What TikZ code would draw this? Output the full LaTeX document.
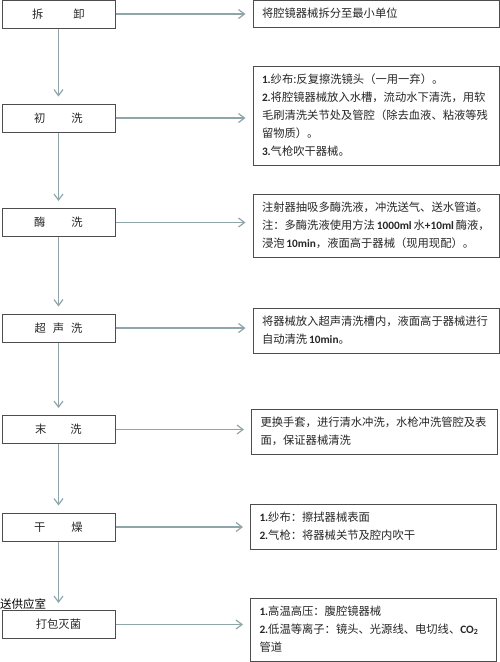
\documentclass[tikz,border=0pt]{standalone}
\usepackage{fontspec}
\setmainfont{Noto Sans CJK SC}
\newfontfamily\numfont{Carlito}
\usetikzlibrary{arrows.meta,positioning}
\definecolor{flowline}{HTML}{8FA5AA}
\definecolor{boxline}{HTML}{4D4D4D}
\newcommand{\bn}[1]{{\numfont\bfseries #1}}

\begin{document}
\begin{tikzpicture}[->,>={Straight Barb[length=6pt,width=9pt]},shorten >=7pt,node distance=317.5pt,
  stage/.style={draw=boxline,line width=1pt,minimum width=113pt,minimum height=28pt,inner sep=0pt,
    font=\fontsize{11.3}{18}\selectfont,text=black!85},
  note/.style={draw=boxline,line width=1pt,text width=228pt,inner xsep=9pt,inner ysep=4.5pt,align=left,
    font=\fontsize{11.3}{18}\selectfont,text=black!85,
    execute at begin node=\strut,execute at end node=\strut},
  every edge/.style={draw=flowline,line width=1.2pt}]
\useasboundingbox (0,0) rectangle (500pt,-662pt);
\node[stage] (0) at (58.5pt,-14pt) {拆\hspace{30pt}卸};
\node[stage] (1) [node distance=104pt, below of = 0] {初\hspace{26pt}洗};
\node[stage] (2) [node distance=104.5pt, below of = 1] {酶\hspace{26pt}洗};
\node[stage] (3) [node distance=105.5pt, below of = 2] {超\hspace{7pt}声\hspace{7pt}洗};
\node[stage] (4) [node distance=101.5pt, below of = 3] {末\hspace{24pt}洗};
\node[stage] (5) [node distance=97.5pt, below of = 4] {干\hspace{26pt}燥};
\node[stage] (6) [node distance=97.5pt, below of = 5] {打包灭菌};
\node[inner sep=0pt,anchor=south west,font=\fontsize{11.5}{12}\selectfont] (s) at ([xshift=-1.5pt,yshift=0.5pt]6.north west) {送供应室};
\node[note] (d0) [right of = 0, yshift=0.5pt] {将腔镜器械拆分至最小单位};
\node[note] (d1) [right of = 1, yshift=2pt] {\bn{1.}纱布:反复擦洗镜头（一用一弃）。\\
  \bn{2.}将腔镜器械放入水槽，流动水下清洗，用软\\
  毛刷清洗关节处及管腔（除去血液、粘液等残\\
  留物质）。\\
  \bn{3.}气枪吹干器械。};
\node[note] (d2) [right of = 2, yshift=-3pt] {注射器抽吸多酶洗液，冲洗送气、送水管道。\\
  注：多酶洗液使用方法\,\bn{1000ml}\,水\bn{+10ml}\,酶液，\\
  浸泡\,\bn{10min}，液面高于器械（现用现配）。};
\node[note] (d3) [right of = 3, yshift=-2.5pt] {将器械放入超声清洗槽内，液面高于器械进行\\
  自动清洗\,\bn{10min}。};
\node[note] (d4) [right of = 4, yshift=-2pt, xshift=-1.5pt] {更换手套，进行清水冲洗，水枪冲洗管腔及表\\
  面，保证器械清洗};
\node[note] (d5) [right of = 5, xshift=-2.5pt] {\bn{1.}纱布：擦拭器械表面\\
  \bn{2.}气枪：将器械关节及腔内吹干};
\node[note] (d6) [right of = 6, yshift=-5pt, xshift=-2.5pt] {\bn{1.}高温高压：腹腔镜器械\\
  \bn{2.}低温等离子：镜头、光源线、电切线、\bn{CO\textsubscript{2}}\\
  管道};
\path (0) edge (1)
   (1) edge (2)
   (2) edge (3)
   (3) edge (4)
   (4) edge (5)
   (5) edge (6)
   (0) edge (0 -| d0.west)
   (1) edge (1 -| d1.west)
   (2) edge (2 -| d2.west)
   (3) edge (3 -| d3.west)
   (4) edge (4 -| d4.west)
   (5) edge (5 -| d5.west)
   (6) edge (6 -| d6.west)
;
\end{tikzpicture}
\end{document}
